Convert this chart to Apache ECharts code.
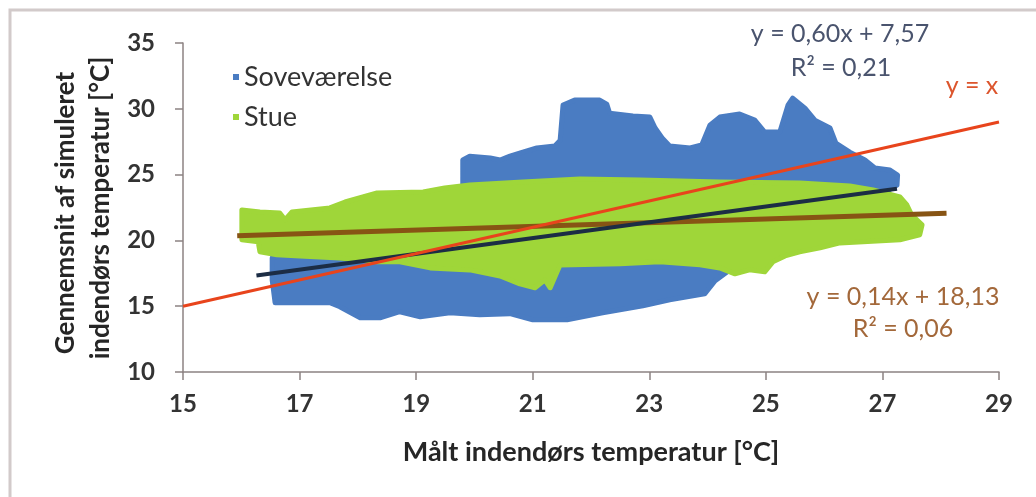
<!DOCTYPE html>
<html>
<head>
<meta charset="utf-8">
<style>
  html, body { margin: 0; padding: 0; background: #ffffff; }
  #chart { width: 1036px; height: 497px; }
</style>
<script src="https://cdn.jsdelivr.net/npm/echarts@6/dist/echarts.min.js"></script>
</head>
<body>
<div id="chart"></div>
<script>
// Axis ticks
const xTicks = [15, 17, 19, 21, 23, 25, 27, 29];
const yTicks = [10, 15, 20, 25, 30, 35];

// Outline of the bedroom (Soveværelse) point cloud: [measured, simulated]
const soveOutlineX = [16.53, 17.01, 18.38, 19.41, 19.80, 19.80, 19.92, 20.27, 20.44, 20.61, 20.83, 21.07, 21.38, 21.47, 21.52, 21.72, 22.15, 22.27, 22.32, 22.72, 23.01, 23.10, 23.22, 23.35, 23.70, 23.90, 24.04, 24.21, 24.55, 24.81, 24.98, 25.24, 25.38, 25.46, 25.67, 25.84, 26.10, 26.20, 26.44, 26.70, 26.87, 27.13, 27.26, 27.25, 26.96, 25.93, 24.90, 24.55, 24.54, 24.38, 24.13, 23.95, 23.35, 22.89, 22.20, 21.59, 21.00, 20.61, 20.09, 19.58, 19.07, 18.72, 18.38, 18.04, 17.69, 17.52, 16.58, 16.53];
const soveOutlineY = [18.67, 19.28, 19.66, 20.43, 23.83, 26.11, 26.40, 26.26, 26.11, 26.40, 26.71, 27.02, 27.17, 27.60, 30.28, 30.66, 30.66, 30.36, 29.67, 29.45, 29.37, 28.54, 27.78, 27.17, 27.02, 27.25, 28.76, 29.37, 29.60, 29.14, 28.23, 28.23, 30.28, 30.81, 30.05, 29.14, 28.54, 27.40, 26.71, 26.11, 25.50, 25.35, 24.97, 24.21, 23.45, 21.94, 20.05, 18.67, 18.22, 17.76, 16.93, 15.94, 15.49, 15.03, 14.50, 13.97, 13.97, 14.43, 14.35, 14.50, 14.20, 14.58, 14.12, 14.12, 14.96, 15.26, 15.26, 17.00];

// Outline of the living room (Stue) point cloud: [measured, simulated]
const stueOutlineX = [16.01, 16.32, 16.66, 16.75, 16.87, 17.52, 17.78, 18.33, 19.12, 19.49, 19.92, 20.83, 21.81, 22.84, 24.21, 25.58, 26.44, 26.84, 27.30, 27.42, 27.50, 27.68, 27.64, 27.30, 26.27, 25.93, 25.58, 25.33, 25.12, 24.98, 24.72, 24.47, 24.21, 23.87, 23.18, 22.50, 21.47, 21.30, 21.21, 21.04, 20.78, 20.44, 19.92, 19.24, 18.72, 18.33, 17.69, 17.01, 16.61, 16.32, 16.29, 16.01];
const stueOutlineY = [22.31, 22.16, 22.09, 21.56, 22.16, 22.47, 22.92, 23.60, 23.68, 23.98, 24.21, 24.44, 24.67, 24.59, 24.44, 24.36, 24.13, 23.83, 23.30, 22.69, 21.94, 21.18, 20.43, 20.05, 19.81, 19.43, 19.13, 18.82, 18.37, 17.61, 17.76, 17.46, 17.91, 18.14, 18.37, 18.22, 18.14, 16.40, 17.00, 16.40, 16.70, 17.30, 17.76, 17.91, 18.37, 18.37, 18.67, 18.82, 18.90, 19.13, 19.89, 20.05];

// Linear trend lines: slope, intercept and x range of each fit
const soveFit = { slope: 0.60, intercept: 7.57, from: 16.26, to: 27.25 };
const stueFit = { slope: 0.14, intercept: 18.13, from: 15.93, to: 28.10 };
const identityLine = [[15, 15], [29, 29]];

const FONT = 'Lato, "Open Sans", sans-serif';
const BLUE = '#4a7cc2';
const GREEN = '#9fd639';

function fitPoints(f) {
  return [[f.from, f.slope * f.from + f.intercept], [f.to, f.slope * f.to + f.intercept]];
}

function cloudSeries(name, color, xs, ys, z) {
  return {
    name: name,
    type: 'custom',
    z: z,
    itemStyle: { color: color },
    data: [[xs[0], ys[0]]],
    renderItem: function (params, api) {
      const pts = xs.map(function (x, i) { return api.coord([x, ys[i]]); });
      return {
        type: 'polygon',
        shape: { points: pts },
        style: { fill: color, stroke: color, lineWidth: 5, lineJoin: 'round' }
      };
    }
  };
}

function note(text, x, y, color) {
  return {
    type: 'text', x: x, y: y,
    style: { text: text, fontFamily: FONT, fontSize: 25, fill: color, textAlign: 'center', textVerticalAlign: 'middle' }
  };
}

const chart = echarts.init(document.getElementById('chart'), null, { renderer: 'canvas' });

chart.setOption({
  animation: false,
  backgroundColor: '#ffffff',
  grid: { left: 183, right: 37, top: 43, bottom: 125 },
  legend: {
    data: ['Soveværelse', 'Stue'],
    orient: 'vertical',
    left: 228,
    top: 58,
    icon: 'rect',
    itemWidth: 6,
    itemHeight: 6,
    itemGap: 12,
    textStyle: { fontFamily: FONT, fontSize: 27, color: '#333333', lineHeight: 28 }
  },
  xAxis: {
    type: 'value',
    min: 15,
    max: 29,
    interval: 2,
    splitLine: { show: false },
    axisLine: { lineStyle: { color: '#8c8282', width: 1.5 } },
    axisTick: { length: 8, lineStyle: { color: '#8c8282', width: 1.5 } },
    axisLabel: {
      margin: 20,
      fontFamily: FONT, fontSize: 24, fontWeight: 'bold', color: '#333333',
      formatter: function (v) { return xTicks.indexOf(v) >= 0 ? String(v) : ''; }
    },
    name: 'Målt indendørs temperatur [°C]',
    nameLocation: 'middle',
    nameGap: 67,
    nameTextStyle: { fontFamily: FONT, fontSize: 27, fontWeight: 'bold', color: '#262626' }
  },
  yAxis: {
    type: 'value',
    min: 10,
    max: 35,
    interval: 5,
    splitLine: { show: false },
    axisLine: { show: true, lineStyle: { color: '#8c8282', width: 1.5 } },
    axisTick: { show: true, length: 8, lineStyle: { color: '#8c8282', width: 1.5 } },
    axisLabel: {
      margin: 28,
      fontFamily: FONT, fontSize: 24, fontWeight: 'bold', color: '#333333',
      formatter: function (v) { return yTicks.indexOf(v) >= 0 ? String(v) : ''; }
    }
  },
  series: [
    cloudSeries('Soveværelse', BLUE, soveOutlineX, soveOutlineY, 1),
    cloudSeries('Stue', GREEN, stueOutlineX, stueOutlineY, 2),
    {
      name: 'Tendens Stue',
      type: 'line',
      z: 3,
      data: fitPoints(stueFit),
      showSymbol: false,
      lineStyle: { color: '#875414', width: 5 }
    },
    {
      name: 'Tendens Soveværelse',
      type: 'line',
      z: 4,
      data: fitPoints(soveFit),
      showSymbol: false,
      lineStyle: { color: '#1c2d45', width: 4 }
    },
    {
      name: 'y = x',
      type: 'line',
      z: 5,
      data: identityLine,
      showSymbol: false,
      lineStyle: { color: '#e8441c', width: 3 }
    }
  ],
  graphic: [
    {
      type: 'rect', silent: true, z: -10,
      shape: { x: 10, y: 10, width: 1040, height: 500 },
      style: { fill: 'none', stroke: '#d2caca', lineWidth: 3 }
    },
    {
      type: 'text', rotation: Math.PI / 2, x: 66, y: 213,
      style: { text: 'Gennemsnit af simuleret', fontFamily: FONT, fontSize: 26, fontWeight: 'bold', fill: '#262626', textAlign: 'center', textVerticalAlign: 'middle' }
    },
    {
      type: 'text', rotation: Math.PI / 2, x: 101, y: 208,
      style: { text: 'indendørs temperatur [°C]', fontFamily: FONT, fontSize: 26, fontWeight: 'bold', fill: '#262626', textAlign: 'center', textVerticalAlign: 'middle' }
    },
    note('y = 0,60x + 7,57', 840, 34, '#4a546e'),
    note('R² = 0,21', 841, 68, '#4a546e'),
    note('y = x', 972, 86, '#dc552d'),
    note('y = 0,14x + 18,13', 903, 297, '#a3683a'),
    note('R² = 0,06', 903, 329, '#a3683a')
  ]
});
</script>
</body>
</html>
